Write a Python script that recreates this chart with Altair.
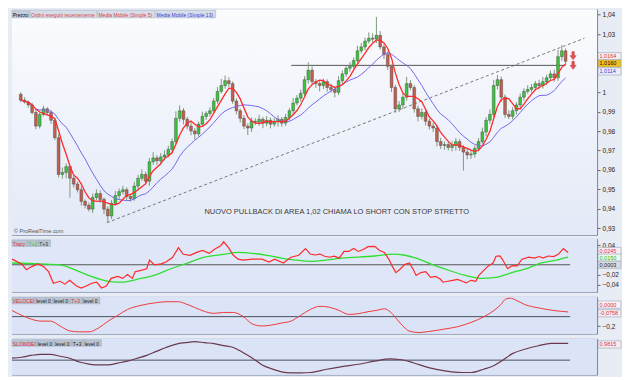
import altair as alt
import pandas as pd

# ---------------- data ----------------
close = [
    0.9960, 0.9950, 0.9935, 0.9896, 0.9826, 0.9886, 0.9915, 0.9896, 0.9856, 0.9766,
    0.9577, 0.9587, 0.9617, 0.9557, 0.9527, 0.9498, 0.9438, 0.9418, 0.9398, 0.9458,
    0.9478, 0.9448, 0.9398, 0.9363, 0.9428, 0.9468, 0.9488, 0.9498, 0.9463, 0.9453,
    0.9517, 0.9557, 0.9577, 0.9542, 0.9642, 0.9662, 0.9647, 0.9667, 0.9677, 0.9706,
    0.9746, 0.9866, 0.9905, 0.9861, 0.9826, 0.9801, 0.9786, 0.9836, 0.9876, 0.9891,
    0.9905, 0.9955, 1.0005, 1.0035, 1.0060, 1.0045, 0.9955, 0.9905, 0.9866, 0.9826,
    0.9816, 0.9851, 0.9846, 0.9861, 0.9841, 0.9856, 0.9836, 0.9851, 0.9861, 0.9841,
    0.9871, 0.9905, 0.9945, 0.9970, 0.9995, 1.0065, 1.0114, 1.0055, 1.0045, 1.0035,
    1.0055, 1.0025, 1.0015, 1.0000, 1.0060, 1.0095, 1.0124, 1.0134, 1.0164, 1.0214,
    1.0234, 1.0264, 1.0279, 1.0274, 1.0294, 1.0234, 1.0194, 1.0134, 1.0025, 0.9915,
    0.9935, 0.9975, 1.0045, 1.0025, 0.9915, 0.9876, 0.9896, 0.9851, 0.9826, 0.9816,
    0.9746, 0.9726, 0.9731, 0.9716, 0.9726, 0.9746, 0.9716, 0.9692, 0.9677, 0.9682,
    0.9711, 0.9746, 0.9796, 0.9856, 0.9886, 1.0035, 1.0065, 0.9975, 0.9886, 0.9876,
    0.9905, 0.9935, 0.9975, 1.0005, 1.0015, 1.0025, 1.0045, 1.0035, 1.0055, 1.0075,
    1.0095, 1.0075, 1.0184, 1.0214, 1.0160,
]
first_open = 0.9990
# wick lengths in pips (0.0001)
wick_up = [
    10, 14, 8, 12, 18, 10, 16, 8, 12, 14,
    20, 26, 16, 10, 14, 12, 18, 10, 14, 20,
    22, 16, 10, 14, 18, 24, 16, 20, 12, 14,
    22, 18, 26, 14, 20, 30, 14, 20, 24, 18,
    16, 36, 28, 14, 12, 20, 16, 14, 24, 12,
    18, 16, 22, 34, 26, 18, 12, 14, 10, 16,
    14, 20, 16, 24, 12, 22, 14, 16, 20, 12,
    18, 14, 26, 16, 20, 18, 40, 20, 14, 18,
    16, 12, 20, 14, 24, 18, 14, 22, 16, 26,
    20, 18, 30, 26, 95, 22, 14, 18, 10, 14,
    20, 24, 34, 18, 12, 16, 22, 14, 12, 18,
    14, 20, 16, 12, 22, 18, 14, 12, 16, 20,
    14, 18, 22, 16, 26, 30, 24, 16, 14, 22,
    18, 14, 20, 16, 22, 18, 14, 20, 24, 16,
    18, 22, 36, 30, 12,
]
wick_dn = [
    12, 8, 14, 10, 16, 12, 10, 14, 18, 12,
    16, 22, 30, 100, 18, 14, 22, 16, 12, 20,
    14, 18, 26, 35, 16, 12, 22, 14, 18, 16,
    12, 20, 14, 18, 24, 16, 22, 14, 18, 12,
    20, 14, 18, 26, 16, 22, 30, 14, 12, 18,
    16, 12, 14, 10, 16, 20, 14, 18, 22, 16,
    36, 20, 14, 18, 26, 16, 22, 14, 28, 18,
    14, 16, 20, 12, 18, 14, 20, 16, 22, 30,
    18, 22, 16, 26, 14, 20, 16, 18, 12, 16,
    14, 18, 12, 16, 20, 14, 22, 18, 24, 20,
    16, 22, 18, 14, 20, 26, 16, 22, 18, 20,
    24, 18, 22, 16, 20, 26, 18, 95, 22, 20,
    18, 16, 14, 22, 18, 16, 20, 24, 18, 14,
    16, 20, 14, 18, 12, 16, 14, 20, 16, 18,
    14, 20, 16, 22, 14,
]

trend_t = [22.75, 149]
trend_p = [0.9328, 1.0279]
level_t = [71.5, 144]
level_p = [1.0139, 1.0139]
arrow_t = [146, 146]
arrow_p = [1.0189, 1.0139]
price_ticks = [0.93, 0.94, 0.95, 0.96, 0.97, 0.98, 0.99, 1.00, 1.03, 1.04]
price_box_pos = [1.0186, 1.0149, 1.0108]
price_box_lab = ["1,0164", "1,0160", "1,0114"]
annotation = "NUOVO PULLBACK DI AREA 1,02 CHIAMA LO SHORT CON STOP STRETTO"
annot_t, annot_p = 83.5, 0.9383

tracy_t = [-1, 1.5, 2.75, 4, 5.75, 7.25, 8.5, 9.75, 11.5, 12.75, 14, 15.75, 17, 18.25, 19.75, 21,
           22.25, 23.5, 24.75, 26.5, 27.75, 29, 30.25, 31, 32.25, 34, 34.75, 36, 37.75, 39, 40.75,
           42.25, 43.5, 45.25, 47, 48.5, 50.25, 51.5, 53.25, 54, 55.25, 56.5, 57.75, 59, 61.5, 64,
           65.75, 67.25, 69.5, 71.5, 73.5, 75.25,
           76.5, 77.75, 79, 80.25, 81.5, 82.75, 84, 85.25, 86.5, 87.75, 89, 90.25, 91.5, 93.25,
           94.5, 95.75, 97, 97.75, 98.75, 99.75, 101, 102.25, 103.25, 104, 105.25, 106.5, 107.75,
           109, 110.25, 111, 112.25, 113.5, 114.75, 116, 117, 118.25, 119.5, 120.25, 121.5,
           122.75, 124, 124.75, 125.75, 126.5, 127.75, 129, 130.25, 131.5, 133.25, 134.75, 136,
           137, 138.25, 139.75, 141, 142.25, 143.25, 143.5]
tracy_v = [0.0117, 0.0020, -0.0098, -0.0039, 0.0020, -0.0039, -0.0137, -0.0371, -0.0332, -0.0390,
           -0.0312, -0.0429, -0.0468, -0.0429, -0.0371, -0.0351, -0.0468, -0.0429, -0.0273, -0.0234,
           -0.0273, -0.0195, -0.0273, -0.0137, -0.0117, -0.0078, 0.0098, 0.0, 0.0020, 0.0059, 0.0156,
           0.0351, 0.0215, 0.0195, 0.0254, 0.0293, 0.0234, 0.0312, 0.0390, 0.0468, 0.0351, 0.0195,
           0.0117, 0.0098, 0.0117, 0.0117, 0.0059, 0.0117, 0.0039, 0.0156, 0.0195, 0.0332,
           0.0220, 0.0201, 0.0220, 0.0176, 0.0156, 0.0176, 0.0137, 0.0273, 0.0273, 0.0332, 0.0273,
           0.0312, 0.0371, 0.0376, 0.0293, 0.0254, 0.0103, -0.0020, -0.0156, -0.0092, 0.0006,
           0.0039, -0.0092, -0.0215, -0.0156, -0.0137, -0.0254, -0.0234, -0.0287, -0.0351,
           -0.0332, -0.0312, -0.0293, -0.0332, -0.0365, -0.0312, -0.0332, -0.0215, -0.0117,
           -0.0020, 0.0039, 0.0176, 0.0181, 0.0103, -0.0078, -0.0014, -0.0020, 0.0117, 0.0156,
           0.0137, 0.0170, 0.0137, 0.0181, 0.0170, 0.0220, 0.0332, 0.0267, 0.0248]
t2_t = [-1, 6.5, 11.5, 16.5, 19, 24, 27.75, 31.5, 36.5, 40.25, 44, 49, 54, 57.75, 61.5, 65.25, 69,
        72.75, 75.25, 76.5, 84.75, 93.25, 98.25, 100.75, 104, 108.25, 112.25, 116.5, 120.75,
        124.75, 128.25, 133.25, 136.5, 140.75, 143.5]
t2_v = [0.0039, 0.0020, 0.0, -0.0137, -0.0215, -0.0332, -0.0351, -0.0293, -0.0195, -0.0078, 0.0020,
        0.0156, 0.0215, 0.0254, 0.0234, 0.0195, 0.0137, 0.0098, 0.0078, 0.0072, 0.0137, 0.0181,
        0.0220, 0.0201, 0.0137, 0.0006, -0.0103, -0.0209, -0.0273, -0.0254, -0.0170, -0.0059,
        0.0039, 0.0103, 0.0156]
t3_level = 0.0003
tracy_ticks = [0.04, -0.02, -0.04]
tracy_box_pos = [0.0283, 0.0147, 0.0003]
tracy_box_lab = ["0,0245", "0,0150", "0,0003"]

velo_t = [-1, 1.5, 4, 6.5, 9, 11.5, 14, 16.5, 19, 21.5, 24, 26.5, 29, 32.25, 36.5, 39, 42.25, 44,
          46.5, 49, 51.5, 54, 56.5, 59, 61.5, 64, 66.5, 69, 71.5, 74, 76.5, 79, 81.5, 84, 86.5,
          89, 91.5, 94, 95.75, 97.25, 99, 100.75, 102.25, 104.75, 107.25, 111.5, 114.75, 118.25,
          121.5, 124, 126, 127.25, 128.5, 129.75, 132.25, 135.75, 139.75, 143.5]
velo_v = [-0.048, -0.095, -0.133, -0.152, -0.152, -0.200, -0.248, -0.257, -0.257, -0.219, -0.152,
          -0.095, -0.038, 0.0, 0.029, 0.038, 0.038, 0.019, -0.019, -0.057, -0.076, -0.067, -0.067,
          -0.105, -0.181, -0.200, -0.190, -0.171, -0.152, -0.095, -0.038, -0.007, -0.016, -0.048,
          -0.086, -0.079, -0.060, -0.045, -0.031, -0.060, -0.133, -0.207, -0.250, -0.264, -0.254,
          -0.229, -0.207, -0.165, -0.111, -0.054, 0.010, 0.064, 0.073, 0.057, 0.010, -0.022,
          -0.048, -0.062]
velo_level = -0.108
velo_ticks = [-0.2]
velo_box_pos = [0.010, -0.075]
velo_box_lab = ["0,0000", "-0,0758"]

slow_t = [-1, 1.5, 4, 6.5, 9, 11.5, 14, 16.5, 19, 21.5, 24, 26.5, 29, 31.5, 34, 36.5, 39, 42.25, 44,
          46.5, 49, 51.5, 54, 56.5, 59, 61.5, 64, 66.5, 69, 71.5, 74, 76.5, 80.75, 84.75, 89,
          93.25, 97.25, 99.75, 103.25, 107.25, 111.5, 115.75, 118.25, 121.5, 124, 126.5, 129,
          132.25, 135.75, 139, 143.5]
slow_v = [0.114, 0.17, 0.28, 0.34, 0.34, 0.23, 0.11, -0.11, -0.23, -0.28, -0.28, -0.17, -0.06,
          0.11, 0.28, 0.51, 0.74, 0.97, 1.02, 1.08, 1.02, 0.97, 0.85, 0.74, 0.45, 0.11, -0.28,
          -0.51, -0.68, -0.74, -0.74, -0.72, -0.53, -0.38, -0.24, -0.06, 0.07, 0.04, -0.15, -0.44,
          -0.63, -0.72, -0.72, -0.53, -0.34, 0.0, 0.38, 0.64, 0.84, 0.98, 0.9815]
slow_level = 0.0
slow_box_pos = [0.92]
slow_box_lab = ["0,9815"]

# ---------------- layout ----------------
W = 586
H1, H2, H3, H4 = 226, 53, 37, 36
XS = alt.Scale(domain=[-1, 151], nice=False, zero=False)
P_DOM = [0.9265, 1.0428]
T_DOM = [-0.0546, 0.0527]
V_DOM = [-0.276, 0.086]
S_DOM = [-0.85, 1.25]
FONT = "Liberation Sans"
dummy = pd.DataFrame({"d": [0]})

n = len(close)
opens = [first_open] + close[:-1]
rows = []
for i in range(n):
    o, c = opens[i], close[i]
    rows.append(dict(i=i, open=o, close=c,
                     high=max(o, c) + wick_up[i] / 10000.0,
                     low=min(o, c) - wick_dn[i] / 10000.0))
candles = pd.DataFrame(rows)


def yaxis(ticks, expr):
    return alt.Axis(orient="right", values=ticks, labelExpr=expr, title=None, grid=False,
                    tickSize=3, labelFontSize=6.5, labelFont=FONT, labelColor="#222",
                    tickColor="#666", domainColor="#7d889e", labelPadding=2)


def header(items, y0, y1):
    rects, texts = [], []
    for x0, x1, lab, tcol, bg in items:
        rects.append(alt.Chart(dummy).mark_rect(fill=bg, stroke="#9aa6ba", strokeWidth=0.5).encode(
            x=alt.value(x0), x2=alt.value(x1), y=alt.value(y0), y2=alt.value(y1)))
        texts.append(alt.Chart(dummy).mark_text(text=lab, color=tcol, fontSize=5, font=FONT,
                                                align="left", baseline="middle").encode(
            x=alt.value(x0 + 0.8), y=alt.value((y0 + y1) / 2 + 0.5)))
    return rects + texts


def boxes(pos, labs, fills, tcols, dom, h, ax):
    half = 3.6 * (dom[1] - dom[0]) / h
    df = pd.DataFrame({"p": pos, "lab": labs, "fill": fills, "tc": tcols})
    ys = alt.Scale(domain=dom, nice=False, zero=False)
    r = alt.Chart(df).transform_calculate(
        y0=f"datum.p - {half}", y1=f"datum.p + {half}"
    ).mark_rect(stroke="#8a94a8", strokeWidth=0.5).encode(
        x=alt.value(W + 1), x2=alt.value(W + 24),
        y=alt.Y("y0:Q", scale=ys, axis=ax), y2="y1:Q",
        fill=alt.Fill("fill:N", scale=None))
    t = alt.Chart(df).mark_text(fontSize=5.5, font=FONT, align="left", baseline="middle").encode(
        x=alt.value(W + 2.5), y=alt.Y("p:Q", scale=ys, axis=ax), text="lab:N",
        color=alt.Color("tc:N", scale=None))
    return [r, t]


def bg_rect(fill, h):
    return alt.Chart(dummy).mark_rect(fill=fill, strokeWidth=0).encode(
        x=alt.value(0), x2=alt.value(W), y=alt.value(0), y2=alt.value(h))


VIEW = alt.ViewBackground(fill="#dbe3f7", stroke="#8f9bb3", strokeWidth=1)
X = lambda f: alt.X(f, scale=XS, axis=None)

# ---------------- price panel ----------------
YP = alt.Scale(domain=P_DOM, nice=False, zero=False)
AXP = yaxis(price_ticks,
            "abs(datum.value-1)<0.0001 ? '1' : replace(format(datum.value, '.2f'), '.', ',')")

grad = alt.LinearGradient(gradient="linear", x1=0, x2=0, y1=0, y2=1, stops=[
    alt.GradientStop(color="#fbfcfe", offset=0), alt.GradientStop(color="#e3e9f7", offset=1)])
pbg = bg_rect(grad, H1)
trend = alt.Chart(pd.DataFrame({"t": trend_t, "p": trend_p})).mark_line(
    color="#6a6a6a", strokeDash=[3, 2.5], strokeWidth=0.9).encode(
    x=X("t:Q"), y=alt.Y("p:Q", scale=YP, axis=AXP))
level = alt.Chart(pd.DataFrame({"t": level_t, "p": level_p})).mark_line(
    color="#555", strokeWidth=1).encode(x=X("t:Q"), y=alt.Y("p:Q", scale=YP, axis=AXP))
wicks = alt.Chart(candles).mark_rule(color="#7d9a7d", strokeWidth=1).encode(
    x=X("i:Q"), y=alt.Y("low:Q", scale=YP, axis=AXP), y2="high:Q")
bodies = alt.Chart(candles).mark_bar(size=2.8, stroke="#3c3c3c", strokeWidth=0.4).encode(
    x=X("i:Q"), y=alt.Y("open:Q", scale=YP, axis=AXP), y2="close:Q",
    color=alt.condition("datum.close >= datum.open", alt.value("#3cc43c"), alt.value("#c06050")))
ma13 = alt.Chart(candles).transform_window(
    m="mean(close)", frame=[-12, 0], sort=[alt.SortField("i")]).mark_line(
    color="#7468ee", strokeWidth=1).encode(x=X("i:Q"), y=alt.Y("m:Q", scale=YP, axis=AXP))
ma5 = alt.Chart(candles).transform_window(
    m="mean(close)", frame=[-4, 0], sort=[alt.SortField("i")]).mark_line(
    color="#ff2a2a", strokeWidth=1.3).encode(x=X("i:Q"), y=alt.Y("m:Q", scale=YP, axis=AXP))
arrows = alt.Chart(pd.DataFrame({"t": arrow_t, "p": arrow_p})).mark_point(
    shape="M-0.3,-1L0.3,-1L0.3,0L0.75,0L0,1L-0.75,0L-0.3,0Z", filled=True, size=64,
    fill="#e85050", stroke="#b03030", strokeWidth=0.5, opacity=1).encode(
    x=X("t:Q"), y=alt.Y("p:Q", scale=YP, axis=AXP))
annot = alt.Chart(pd.DataFrame({"t": [annot_t], "p": [annot_p], "s": [annotation]})).mark_text(
    fontSize=7.5, font=FONT, color="#3a3a3a").encode(
    x=X("t:Q"), y=alt.Y("p:Q", scale=YP, axis=AXP), text="s:N")
copy = alt.Chart(dummy).mark_text(text="\u00a9 ProRealTime.com", fontSize=5.5, font=FONT,
                                  color="#555", align="left", baseline="middle").encode(
    x=alt.value(2), y=alt.value(H1 - 4))

price_head = header([
    (0, 17.5, "Prezzo", "#111", "#c2cdd9"),
    (18.3, 84.8, "Ordini eseguiti recentemente", "#e04848", "#d6dee9"),
    (85.8, 143, "Media Mobile (Simple 5)", "#e03a3a", "#d6dee9"),
    (144, 204, "Media Mobile (Simple 13)", "#3a3ad8", "#d6dee9"),
], 1, 8.5)
price_boxes = boxes(price_box_pos, price_box_lab, ["#f4f0f4", "#f0c020", "#eceefa"],
                    ["#e03030", "#111", "#3a3ad8"], P_DOM, H1, AXP)

price = alt.layer(pbg, trend, level, wicks, bodies, ma13, ma5, arrows, annot, copy,
                  *price_head, *price_boxes).properties(width=W, height=H1, view=VIEW)

# ---------------- Tracy panel ----------------
YT = alt.Scale(domain=T_DOM, nice=False, zero=False)
AXT = yaxis(tracy_ticks, "replace(format(datum.value, '.2f'), '.', ',')")
zero_t = alt.Chart(pd.DataFrame({"t": [-1, 144], "v": [t3_level, t3_level]})).mark_line(
    color="#555", strokeWidth=1).encode(x=X("t:Q"), y=alt.Y("v:Q", scale=YT, axis=AXT))
green = alt.Chart(pd.DataFrame({"t": t2_t, "v": t2_v})).mark_line(
    color="#2ee02e", strokeWidth=1.3, interpolate="monotone").encode(
    x=X("t:Q"), y=alt.Y("v:Q", scale=YT, axis=AXT))
red = alt.Chart(pd.DataFrame({"t": tracy_t, "v": tracy_v})).mark_line(
    color="#ff2a2a", strokeWidth=1.2).encode(x=X("t:Q"), y=alt.Y("v:Q", scale=YT, axis=AXT))
tr_head = header([
    (0, 15.5, "Tracy", "#e03030", "#b9c4d0"),
    (15.5, 26.5, "T+2", "#2ecc2e", "#b9c4d0"),
    (26.5, 38.5, "T+3", "#333", "#b9c4d0"),
], 1, 7.5)
tr_boxes = boxes(tracy_box_pos, tracy_box_lab, ["#f4f0f4", "#eef6ee", "#d8dce6"],
                 ["#e03030", "#22bb22", "#222"], T_DOM, H2, AXT)
tracy = alt.layer(bg_rect("#dfe6f7", H2), zero_t, green, red, *tr_head, *tr_boxes).properties(
    width=W, height=H2, view=VIEW)

# ---------------- VELOCEI panel ----------------
YV = alt.Scale(domain=V_DOM, nice=False, zero=False)
AXV = yaxis(velo_ticks, "replace(format(datum.value, '.1f'), '.', ',')")
lev_v = alt.Chart(pd.DataFrame({"t": [-1, 144], "v": [velo_level, velo_level]})).mark_line(
    color="#4a4e5e", strokeWidth=1).encode(x=X("t:Q"), y=alt.Y("v:Q", scale=YV, axis=AXV))
velo = alt.Chart(pd.DataFrame({"t": velo_t, "v": velo_v})).mark_line(
    color="#f03a3a", strokeWidth=1, interpolate="monotone").encode(
    x=X("t:Q"), y=alt.Y("v:Q", scale=YV, axis=AXV))
ve_head = header([
    (0, 23, "VELOCEI", "#e03030", "#b9c4d0"),
    (23.5, 41, "level 0", "#222", "#b9c4d0"),
    (41, 58.5, "level 0", "#222", "#b9c4d0"),
    (58.5, 70.5, "T+3", "#e03030", "#b9c4d0"),
    (70.5, 88, "level 0", "#222", "#b9c4d0"),
], 0.5, 7)
ve_boxes = boxes(velo_box_pos, velo_box_lab, ["#f6f4f8", "#f4eef2"], ["#e03030", "#e03030"],
                 V_DOM, H3, AXV)
velocei = alt.layer(bg_rect("#dbe3f7", H3), lev_v, velo, *ve_head, *ve_boxes).properties(
    width=W, height=H3, view=VIEW)

# ---------------- SLOWDEI panel ----------------
YS = alt.Scale(domain=S_DOM, nice=False, zero=False)
AXS = alt.Axis(orient="right", values=[], title=None, grid=False, labels=False, ticks=False,
               domainColor="#7d889e")
lev_s = alt.Chart(pd.DataFrame({"t": [-1, 144], "v": [slow_level, slow_level]})).mark_line(
    color="#4a4e5e", strokeWidth=1).encode(x=X("t:Q"), y=alt.Y("v:Q", scale=YS, axis=AXS))
slow = alt.Chart(pd.DataFrame({"t": slow_t, "v": slow_v})).mark_line(
    color="#6a3a4c", strokeWidth=1.2, interpolate="monotone").encode(
    x=X("t:Q"), y=alt.Y("v:Q", scale=YS, axis=AXS))
sl_head = header([
    (0, 24.5, "SLOWDEI", "#e03030", "#b9c4d0"),
    (25, 42.5, "level 0", "#222", "#b9c4d0"),
    (42.5, 60, "level 0", "#222", "#b9c4d0"),
    (60, 72, "T+3", "#222", "#b9c4d0"),
    (72, 89.5, "level 0", "#222", "#b9c4d0"),
], 1, 7.5)
sl_boxes = boxes(slow_box_pos, slow_box_lab, ["#f4eef2"], ["#e03030"], S_DOM, H4, AXS)
slowdei = alt.layer(bg_rect("#dbe3f7", H4), lev_s, slow, *sl_head, *sl_boxes).properties(
    width=W, height=H4, view=VIEW)

chart = alt.vconcat(price, tracy, velocei, slowdei, spacing=2).properties(
    background="#e8ecf5", padding=0)

chart.save("out.html", embed_options={"renderer": "svg", "actions": False})
